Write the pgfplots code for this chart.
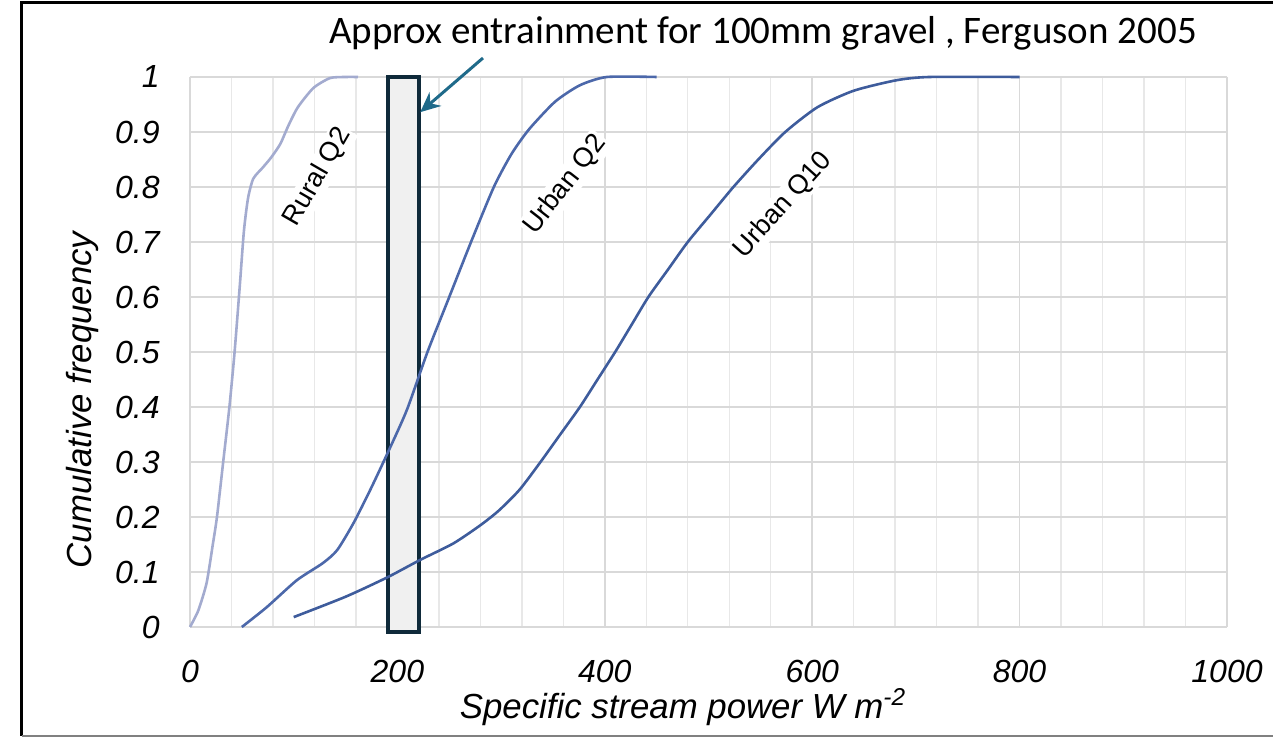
\documentclass[border=0pt]{standalone}
\usepackage{pgfplots}
\pgfplotsset{compat=1.18}
\usetikzlibrary{arrows.meta}
\usepackage{fontspec}
\setmainfont{Liberation Sans}
\newfontfamily\titlefont{Carlito}
\definecolor{ruralc}{HTML}{A3ABCF}
\definecolor{urbanc}{HTML}{4C68AA}
\definecolor{urbanten}{HTML}{3E5C9C}
\definecolor{boxedge}{HTML}{0F2A3A}
\definecolor{arrowc}{HTML}{1F6A8A}
\begin{document}
\begin{tikzpicture}
\useasboundingbox (-95pt,-55pt) rectangle (541.5pt,313.5pt);
\begin{axis}[
  at={(0,0)}, anchor=south west,
  scale only axis, width=518.5pt, height=275pt,
  xmin=0, xmax=1000, ymin=0, ymax=1,
  clip=false,
  axis line style={draw=none},
  major tick length=0pt, minor tick length=0pt,
  xtick={0,200,400,600,800,1000},
  minor x tick num=4,
  ytick={0,0.1,0.2,0.3,0.4,0.5,0.6,0.7,0.8,0.9,1},
  yticklabels={0,0.1,0.2,0.3,0.4,0.5,0.6,0.7,0.8,0.9,1},
  xmajorgrids, ymajorgrids, xminorgrids,
  major grid style={draw=gray!30, line width=0.8pt},
  minor grid style={draw=gray!18, line width=0.7pt},
  tick label style={font=\fontsize{16}{16}\selectfont\itshape},
  /pgf/number format/assume math mode=true,
  /pgf/number format/1000 sep={},
  yticklabel style={anchor=east, inner sep=0pt, xshift=-15pt},
  xticklabel style={anchor=north, inner sep=0pt, yshift=-16.5pt},
]
% approx entrainment band
\addplot[draw=boxedge, line width=2pt, fill=gray!12] coordinates {(191,-0.009) (221,-0.009) (221,1) (191,1)} -- cycle;

\addplot[ruralc, line width=1.3pt, smooth, tension=0.4] coordinates {
(0,0) (8,0.03) (16,0.08) (22,0.15) (26,0.2) (32,0.30) (38,0.40) (43,0.50) (48,0.62) (52,0.72) (56,0.78) (61,0.815) (70,0.835) (78,0.853) (87,0.878) (95,0.912) (104,0.945) (119,0.98) (135,0.998) (150,1) (162,1)
};
\addplot[urbanc, line width=1.3pt, smooth, tension=0.4] coordinates {
(50,0) (74,0.036) (103,0.085) (128,0.116) (142,0.14) (158,0.19) (174,0.25) (189,0.31) (209,0.394) (229,0.5) (250,0.6) (271,0.7) (293,0.8) (310,0.86) (327,0.905) (352,0.955) (376,0.985) (402,1.0) (450,1.0)
};
\addplot[urbanten, line width=1.3pt, smooth, tension=0.4] coordinates {
(100,0.018) (150,0.055) (190,0.09) (222,0.122) (254,0.152) (280,0.185) (298,0.212) (318,0.25) (338,0.3) (357,0.35) (376,0.4) (393,0.45) (410,0.5) (426,0.55) (442,0.6) (461,0.65) (480,0.7) (502,0.75) (524,0.8) (548,0.85) (574,0.9) (605,0.945) (640,0.975) (681,0.994) (713,1.0) (800,1.0)
};

\node[rotate=60, fill=white, inner sep=1pt, font=\fontsize{13.5}{13.5}\selectfont] at (axis cs:123,0.818) {Rural Q2};
\node[rotate=52, fill=white, inner sep=1pt, font=\fontsize{13.5}{13.5}\selectfont] at (axis cs:362,0.804) {Urban Q2};
\node[rotate=48, fill=white, inner sep=1pt, font=\fontsize{13.5}{13.5}\selectfont] at (axis cs:572,0.767) {Urban Q10};

\draw[arrowc, line width=1.5pt, -{Stealth[length=10pt,width=9pt]}] (axis cs:282.5,1.0345) -- (axis cs:222,0.936);
\end{axis}
% labels
\node[rotate=90, font=\fontsize{17.4}{17.4}\selectfont\itshape] at (-53.5pt,113.5pt) {Cumulative frequency};
\node[font=\fontsize{17.4}{17.4}\selectfont\itshape] at (246.5pt,-40pt) {Specific stream power W m\textsuperscript{-2}};
\node[font=\titlefont\fontsize{19.5}{19.5}\selectfont] at (286.5pt,297pt) {Approx entrainment for 100mm gravel , Ferguson 2005};
% frame
\draw[black, line width=1.5pt] (-84pt,-54.5pt) -- (-84pt,312pt) -- (541.5pt,312pt);
\draw[gray, line width=0.8pt] (-84pt,-54.5pt) -- (541.5pt,-54.5pt);
\end{tikzpicture}
\end{document}
